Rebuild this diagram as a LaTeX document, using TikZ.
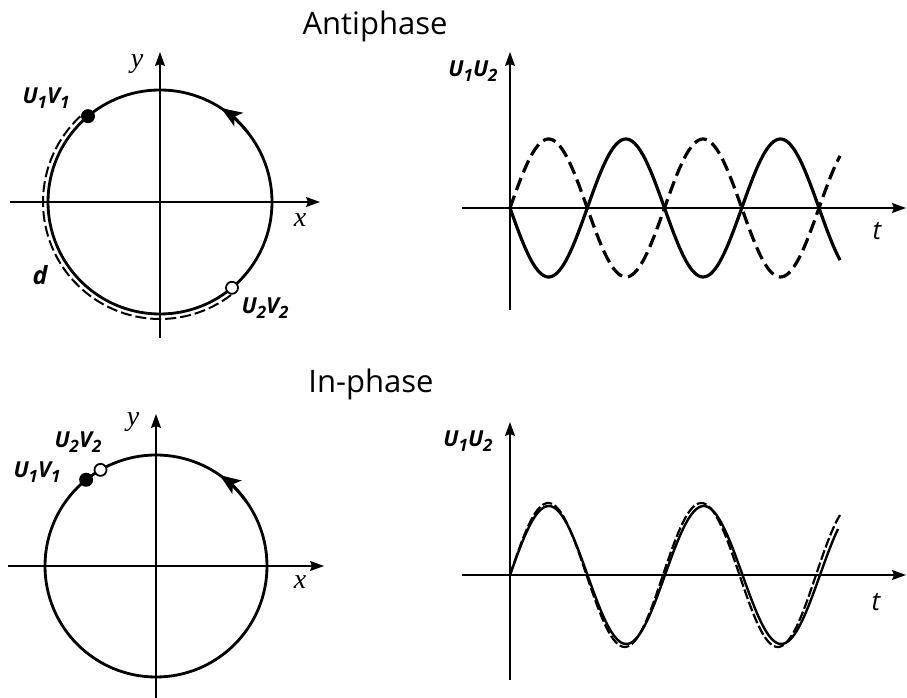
\documentclass[tikz,border=0pt]{standalone}
\usepackage{fontspec}
\setmainfont{Open Sans}
\newfontfamily\serifit{Liberation Serif}[ItalicFont={* Italic}]
\usetikzlibrary{arrows.meta,calc}
\newcommand\sbs[1]{\raisebox{-0.25em}{\fontsize{17}{17}\selectfont #1}}
\begin{document}
\begin{tikzpicture}[x=1pt,y=1pt,
  axis/.style={line width=1.5pt,-{Stealth[length=14pt,width=10pt,inset=2pt]}},
  orbit/.style={line width=2.8pt},
  turn/.style={line width=2.8pt,-{Stealth[length=21pt,width=16pt,inset=5pt]}},
  dashedarc/.style={line width=2pt,dash pattern=on 11pt off 4pt},
  wave/.style={line width=3.2pt},
  wavedash/.style={line width=3.2pt,dash pattern=on 13pt off 6pt},
  wavethin/.style={line width=2.4pt},
  wavethindash/.style={line width=2.2pt,dash pattern=on 10pt off 3pt},
  filleddot/.style={circle,fill=black,inner sep=0pt,minimum size=14pt},
  opendot/.style={circle,draw=black,fill=white,line width=1.8pt,inner sep=0pt,minimum size=12pt},
  title/.style={font=\fontsize{31}{31}\selectfont},
  uvlabel/.style={font=\fontsize{22}{22}\selectfont\bfseries\itshape,inner sep=0pt},
  axlabel/.style={font=\fontsize{28}{28}\selectfont\serifit\itshape,inner sep=0pt},
  tlabel/.style={font=\fontsize{26}{26}\selectfont\itshape,inner sep=0pt}]
\useasboundingbox (0,0) rectangle (907,698);

% ---------- Antiphase ----------
\node[title] (tA) at (375,672) {Antiphase};

% circle top-left
\coordinate (c1) at (160,496);
\coordinate (x1a) at (10,496);  \coordinate (x1b) at (320,496);
\coordinate (y1a) at (160,360); \coordinate (y1b) at (160,646);
\draw[axis] (x1a) -- (x1b);
\draw[axis] (y1a) -- (y1b);
\draw[orbit] (c1) circle[radius=112];
\draw[dashedarc] ($(c1)+(133:117)$) arc (133:308:117);
\draw[turn] ($(c1)+(38:112)$) arc (38:57:112);
\node[filleddot] (p1) at ($(c1)+(130:112)$) {};
\node[opendot] (p2) at ($(c1)+(310:112)$) {};
\node[uvlabel] (l1) at (46,600) {U\sbs{1}V\sbs{1}};
\node[uvlabel] (l2) at (265,390) {U\sbs{2}V\sbs{2}};
\node[uvlabel,font=\fontsize{25}{25}\selectfont\bfseries\itshape] (dl) at (40,423) {d};
\node[axlabel] (ylab1) at (137,634) {y};
\node[axlabel] (xlab1) at (300,478) {x};

% graph top-right
\coordinate (gx1a) at (462,490); \coordinate (gx1b) at (906,490);
\coordinate (gy1a) at (510,388); \coordinate (gy1b) at (510,646);
\draw[axis] (gx1a) -- (gx1b);
\draw[axis] (gy1a) -- (gy1b);
\draw[wave] plot[domain=510:840,samples=160,smooth] (\x,{490-69*sin((\x-510)/154.5*360)});
\draw[wavedash] plot[domain=510:840,samples=160,smooth] (\x,{490+69*sin((\x-510)/154.5*360)});
\node[uvlabel] (g1) at (473,627) {U\sbs{1}U\sbs{2}};
\node[tlabel] (t1) at (877,467) {t};

% ---------- In-phase ----------
\node[title] (tB) at (371,314) {In-phase};

% circle bottom-left
\coordinate (c2) at (156,132);
\coordinate (x2a) at (8,132);   \coordinate (x2b) at (324,132);
\coordinate (y2a) at (156,0);   \coordinate (y2b) at (156,284);
\draw[axis] (x2a) -- (x2b);
\draw[axis] (y2a) -- (y2b);
\draw[orbit] (c2) circle[radius=111];
\draw[turn] ($(c2)+(36:111)$) arc (36:55:111);
\node[filleddot] (q1) at ($(c2)+(129:111)$) {};
\node[opendot] (q2) at ($(c2)+(120:111)$) {};
\node[uvlabel] (m1) at (37,226) {U\sbs{1}V\sbs{1}};
\node[uvlabel] (m2) at (78,256) {U\sbs{2}V\sbs{2}};
\node[axlabel] (ylab2) at (133,276) {y};
\node[axlabel] (xlab2) at (300,116) {x};

% graph bottom-right
\coordinate (gx2a) at (462,123); \coordinate (gx2b) at (906,123);
\coordinate (gy2a) at (510,18);  \coordinate (gy2b) at (510,276);
\draw[axis] (gx2a) -- (gx2b);
\draw[axis] (gy2a) -- (gy2b);
\draw[wavethin] plot[domain=510:838,samples=160,smooth] (\x,{123+69*sin((\x-510)/155*360)});
\draw[wavethindash] plot[domain=510:840,samples=160,smooth] (\x,{123+72*sin((\x-510)/153*360)});
\node[uvlabel] (g2) at (468,257) {U\sbs{1}U\sbs{2}};
\node[tlabel] (t2) at (876,96) {t};
\end{tikzpicture}
\end{document}
